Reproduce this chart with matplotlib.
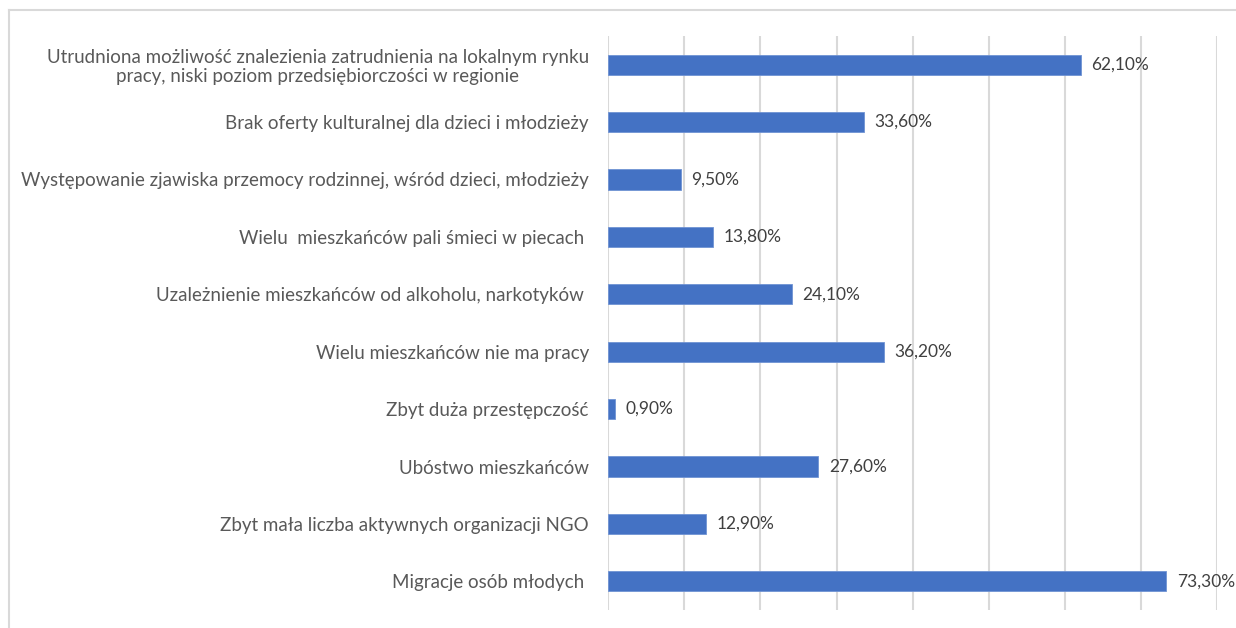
import matplotlib.pyplot as plt
from matplotlib.lines import Line2D

# Odpowiedzi (od góry do dołu)
categories = [
    "Utrudniona możliwość znalezienia zatrudnienia na lokalnym rynku\npracy, niski poziom przedsiębiorczości w regionie",
    "Brak oferty kulturalnej dla dzieci i młodzieży",
    "Występowanie zjawiska przemocy rodzinnej, wśród dzieci, młodzieży",
    "Wielu  mieszkańców pali śmieci w piecach ",
    "Uzależnienie mieszkańców od alkoholu, narkotyków ",
    "Wielu mieszkańców nie ma pracy",
    "Zbyt duża przestępczość",
    "Ubóstwo mieszkańców",
    "Zbyt mała liczba aktywnych organizacji NGO",
    "Migracje osób młodych ",
]
values = [62.1, 33.6, 9.5, 13.8, 24.1, 36.2, 0.9, 27.6, 12.9, 73.3]
value_labels = ["62,10%", "33,60%", "9,50%", "13,80%", "24,10%",
                "36,20%", "0,90%", "27,60%", "12,90%", "73,30%"]

plt.rcParams['font.family'] = ['Lato', 'DejaVu Sans']

fig = plt.figure(figsize=(12.36, 6.28), dpi=100)
ax = fig.add_axes([608.3 / 1236, 1 - 610 / 628, (1217 - 608.3) / 1236, (610 - 36) / 628])

n = len(categories)
ypos = list(range(n))
ax.barh(ypos, values, height=0.35, color="#4472C4", edgecolor="#6f93d3", linewidth=0.6, zorder=3)

for y, v, lab in zip(ypos, values, value_labels):
    ax.text(v + 1.4, y, lab, va="center", ha="left", fontsize=12.5, color="#404040")

ax.set_xlim(0, 80)
ax.set_ylim(n - 0.5, -0.5)
ax.set_xticks(range(0, 81, 10))
ax.set_xticklabels([])
ax.set_yticks(ypos)
ax.set_yticklabels(categories, fontsize=13.5, color="#595959",
                   multialignment="center", linespacing=1.1)
ax.tick_params(axis="both", length=0)
ax.tick_params(axis="y", pad=14)
ax.grid(axis="x", color="#d9d9d9", linewidth=1.5, zorder=0)
for s in ax.spines.values():
    s.set_visible(False)

# Ramka wykresu (górna i lewa krawędź)
fig.add_artist(Line2D([9 / 1236, 1.0], [1 - 10 / 628, 1 - 10 / 628], color="#d9d9d9", linewidth=1.5))
fig.add_artist(Line2D([9 / 1236, 9 / 1236], [0, 1 - 10 / 628], color="#d9d9d9", linewidth=1.5))

fig.savefig("out.png", dpi=100)
